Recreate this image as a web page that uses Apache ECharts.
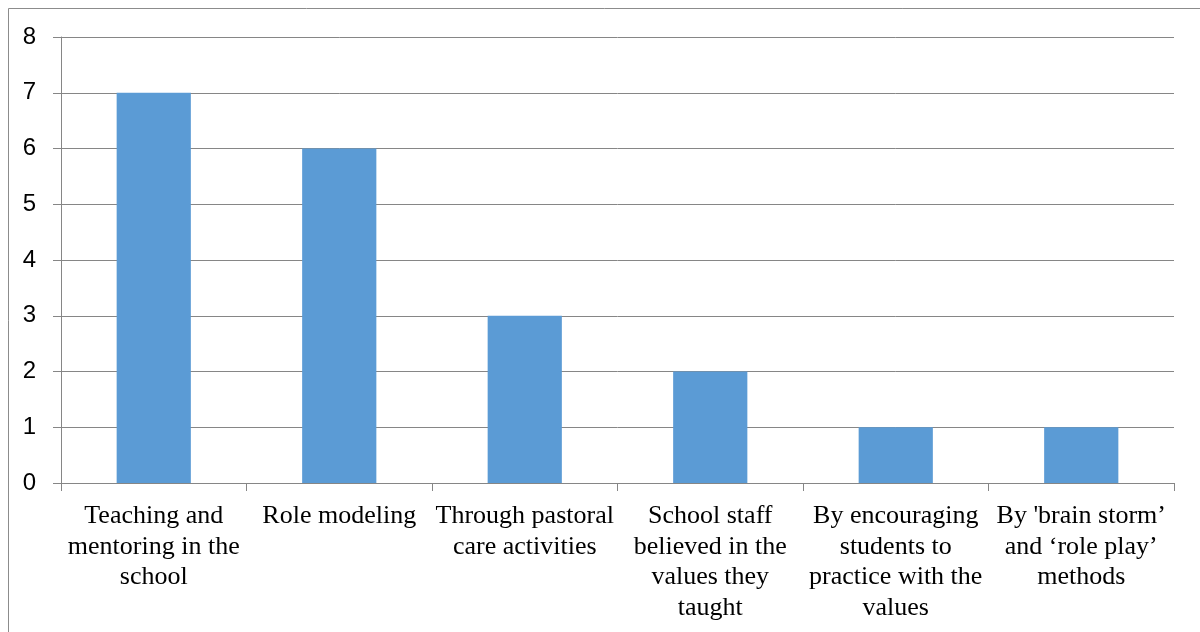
<!DOCTYPE html>
<html>
<head>
<meta charset="utf-8">
<script src="https://cdn.jsdelivr.net/npm/echarts@6/dist/echarts.min.js"></script>
<style>
  html, body { margin: 0; padding: 0; background: #fff; }
  #chart { width: 1200px; height: 632px; }
</style>
</head>
<body>
<div id="chart"></div>
<script>
// Ways values were taught, and how many respondents named each
const categories = [
  'Teaching and\nmentoring in the\nschool',
  'Role modeling',
  'Through pastoral\ncare activities',
  'School staff\nbelieved in the\nvalues they\ntaught',
  'By encouraging\nstudents to\npractice with the\nvalues',
  "By 'brain storm\u2019\nand \u2018role play\u2019\nmethods"
];
const counts = [7, 6, 3, 2, 1, 1];
const yTicks = { min: 0, max: 8, interval: 1 };

const chart = echarts.init(document.getElementById('chart'), null, { renderer: 'canvas' });
chart.setOption({
  animation: false,
  backgroundColor: '#fff',
  graphic: [{
    type: 'rect',
    shape: { x: 8.5, y: 8.5, width: 1210, height: 640 },
    style: { fill: 'none', stroke: '#8c8c8c', lineWidth: 1 },
    silent: true
  }],
  grid: { left: 61, right: 26, top: 37, bottom: 149, containLabel: false },
  xAxis: {
    type: 'category',
    data: categories,
    axisLine: { show: true, lineStyle: { color: '#868686', width: 1 } },
    axisTick: { show: true, length: 8, alignWithLabel: false, lineStyle: { color: '#868686' } },
    axisLabel: {
      interval: 0,
      margin: 18,
      fontFamily: '"Liberation Serif", "Times New Roman", serif',
      fontSize: 26,
      lineHeight: 30.5,
      color: '#000',
      align: 'center'
    },
    splitLine: { show: false }
  },
  yAxis: {
    type: 'value',
    min: yTicks.min,
    max: yTicks.max,
    interval: yTicks.interval,
    axisLine: { show: true, lineStyle: { color: '#868686', width: 1 } },
    axisTick: { show: true, length: 8, lineStyle: { color: '#868686' } },
    axisLabel: {
      margin: 25,
      fontFamily: '"Liberation Sans", Arial, sans-serif',
      fontSize: 24,
      color: '#000'
    },
    splitLine: { show: true, lineStyle: { color: '#868686', width: 1 } }
  },
  series: [{
    type: 'bar',
    data: counts,
    barWidth: '40%',
    itemStyle: { color: '#5B9BD5' }
  }]
});
</script>
</body>
</html>
